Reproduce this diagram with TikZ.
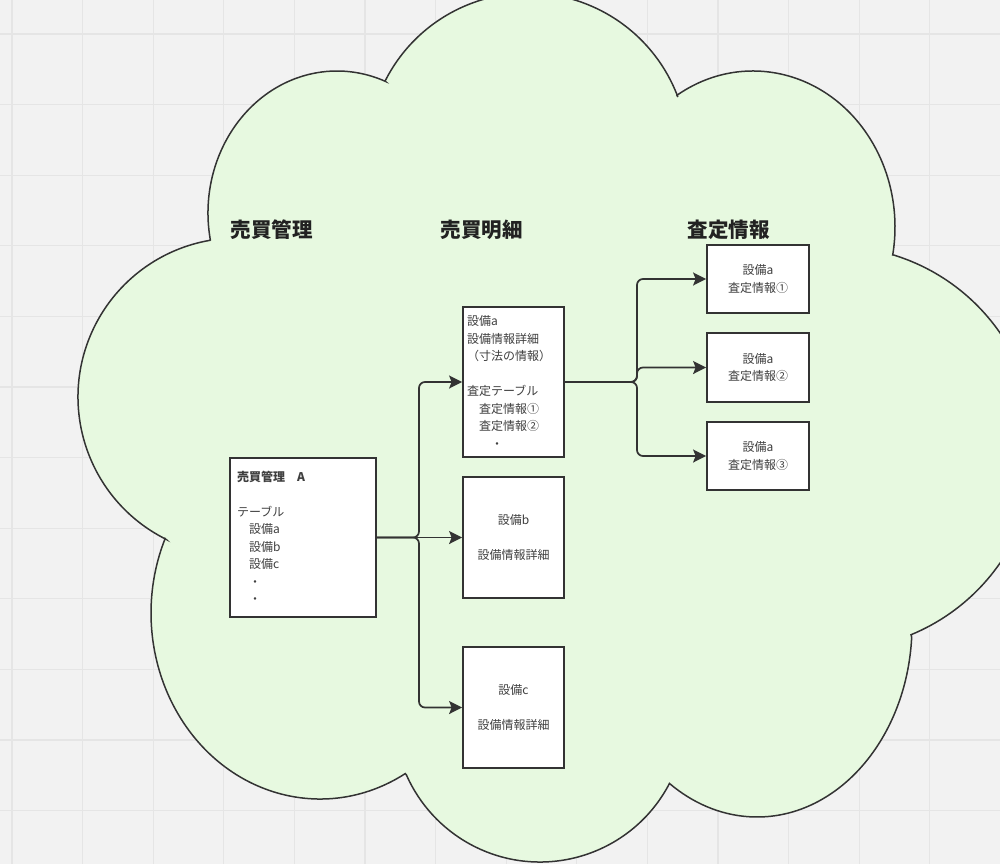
\documentclass[tikz,border=0pt]{standalone}
\usepackage{fontspec}
\newfontfamily\jp{Noto Sans CJK JP}
\usetikzlibrary{arrows.meta}
\definecolor{bgc}{HTML}{F2F2F2}
\definecolor{gridc}{HTML}{E5E5E5}
\definecolor{cloudc}{HTML}{E7F9E0}
\definecolor{linec}{HTML}{333333}
\definecolor{txtc}{HTML}{3F3F3F}
\definecolor{headc}{HTML}{222222}
\tikzset{
  cloudshape/.style={fill=cloudc, draw=linec, line width=1.5pt, line join=miter},
  boxnode/.style={draw=linec, fill=white, line width=1.8pt, rectangle, inner ysep=0pt,
    font=\jp\fontsize{12}{17.5}\selectfont, text=txtc},
  header/.style={font=\jp\bfseries\fontsize{20.5}{24}\selectfont, text=headc},
  conn/.style={draw=linec, line width=1.7pt, rounded corners=6pt,
    -{Stealth[length=13pt,width=13pt,inset=2.5pt]}},
}
\begin{document}
\begin{tikzpicture}[x=1pt,y=-1pt]
\useasboundingbox (0,0) rectangle (1000,864);
\clip (0,0) rectangle (1000,864);
\fill[bgc] (0,0) rectangle (1000,864);
\foreach \k in {0,...,14} {
  \draw[gridc, line width=1.2pt] ({12+70.6*\k},0) -- ({12+70.6*\k},864);
}
\foreach \k in {0,...,12} {
  \draw[gridc, line width=1.2pt] (0,{34+70.6*\k}) -- (1000,{34+70.6*\k});
}
% cloud
\path[cloudshape]
  ([shift={(337,213)}]169:129 and 142) arc[start angle=169, end angle=292, x radius=129, y radius=142]
  -- ([shift={(528,153)}]206.7:160) arc[start angle=206.7, end angle=339.5, radius=160]
  -- ([shift={(753,227)}]237.6:142 and 156) arc[start angle=237.6, end angle=370.3, x radius=142, y radius=156]
  -- ([shift={(834,448)}]-73:202) arc[start angle=-73, end angle=67.6, radius=202]
  -- ([shift={(757,625)}]3.6:155 and 192) arc[start angle=3.6, end angle=124.4, x radius=155, y radius=192]
  -- ([shift={(540,716)}]28.7:146) arc[start angle=28.7, end angle=156.2, radius=146]
  -- ([shift={(320,613)}]59.7:169 and 186) arc[start angle=59.7, end angle=203.6, x radius=169, y radius=186]
  -- ([shift={(237,397)}]116.6:159) arc[start angle=116.6, end angle=260.2, radius=159]
  -- cycle;

% headers
\node[header] (h1) at (271.5,230) {売買管理};
\node[header] (h2) at (481.5,230) {売買明細};
\node[header] (h3) at (728.5,230) {査定情報};

% boxes
\node[boxnode, inner xsep=7pt, text width=132pt, minimum height=159pt, align=left] (A) at (303,537.5)
  {{\bfseries 売買管理　A}\\ \mbox{}\\ テーブル\\ \hspace*{1em}設備a\\ \hspace*{1em}設備b\\ \hspace*{1em}設備c\\ \hspace*{1em}・\\ \hspace*{1em}・};
\node[boxnode, inner xsep=4pt, text width=93pt, minimum height=150pt, align=left] (B1) at (513.5,382)
  {設備a\\ 設備情報詳細\\ （寸法の情報）\\ \mbox{}\\ 査定テーブル\\ \hspace*{1em}査定情報①\\ \hspace*{1em}査定情報②\\ \hspace*{2em}・};
\node[boxnode, inner xsep=4pt, text width=93pt, minimum height=121pt, align=center] (B2) at (513.5,537.5)
  {設備b\\ \mbox{}\\ 設備情報詳細};
\node[boxnode, inner xsep=4pt, text width=93pt, minimum height=121pt, align=center] (B3) at (513.5,707.5)
  {設備c\\ \mbox{}\\ 設備情報詳細};
\node[boxnode, inner xsep=4pt, text width=94pt, minimum height=68pt, align=center] (R1) at (758,279)
  {設備a\\ 査定情報①};
\node[boxnode, inner xsep=4pt, text width=94pt, minimum height=69pt, align=center] (R2) at (758,367.5)
  {設備a\\ 査定情報②};
\node[boxnode, inner xsep=4pt, text width=94pt, minimum height=68pt, align=center] (R3) at (758,456)
  {設備a\\ 査定情報③};

% junction coordinates
\coordinate (jx) at (419,538);
\coordinate (jy) at (637,383);

% connectors
\draw[conn] (A.east) -- (A.east -| jx) |- (B1.west);
\draw[conn] (A.east) -- (B2.west);
\draw[conn] (A.east) -- (A.east -| jx) |- (B3.west);
\draw[conn] (B1.east) -- (B1.east -| jy) |- (R1.west);
\draw[conn] (B1.east) -- (B1.east -| jy) |- (R2.west);
\draw[conn] (B1.east) -- (B1.east -| jy) |- (R3.west);
\end{tikzpicture}
\end{document}
